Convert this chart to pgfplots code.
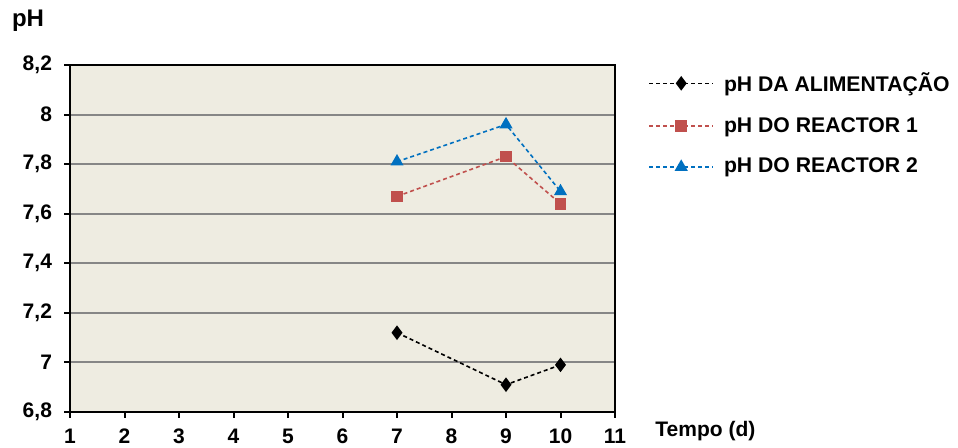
\documentclass[border=0pt]{standalone}
\usepackage{fontspec}
\setmainfont{Liberation Sans}
\usepackage{pgfplots}
\pgfplotsset{compat=1.18}
\definecolor{bgc}{HTML}{EEECE1}
\definecolor{redc}{HTML}{C0504D}
\definecolor{bluec}{HTML}{0070C0}
\definecolor{gridc}{HTML}{868686}
\begin{document}
\begin{tikzpicture}[font=\fontsize{10.5}{12.6}\selectfont\bfseries]
\path[use as bounding box] (0,0) rectangle (479pt,224pt);
\begin{axis}[
 at={(35pt,18pt)}, anchor=south west,
 scale only axis, width=272.5pt, height=173.5pt,
 xmin=1, xmax=11, ymin=6.8, ymax=8.2,
 xtick={1,2,3,4,5,6,7,8,9,10,11},
 ytick={6.8,7,7.2,7.4,7.6,7.8,8,8.2},
 xtick pos=left, ytick pos=left,
 tick align=outside, major tick length=3pt,
 tick style={black, line width=1pt},
 axis line style={black, line width=1pt},
 ymajorgrids, grid style={gridc, line width=1pt},
 axis background/.style={fill=bgc},
 /pgf/number format/use comma,
 /pgf/number format/assume math mode=true,
 ticklabel style={font=\fontsize{10.5}{12.6}\selectfont\bfseries},
 yticklabel style={xshift=-2.5pt},
 xticklabel style={yshift=-2pt},
 legend style={at={(1,1)}, anchor=north west, xshift=13.5pt, yshift=0.5pt, draw=none, fill=none,
   row sep=7.5pt, font=\fontsize{10.6}{12.6}\selectfont\bfseries,
   nodes={inner xsep=5pt}},
 legend cell align=left,
 legend image code/.code={\draw[mark repeat=2,mark phase=2,#1] plot coordinates {(0pt,0pt) (16pt,0pt) (32pt,0pt)};},
 clip=false,
]
\addplot[black, line width=0.8pt, dash pattern=on 2pt off 1.5pt, mark=diamond*, mark size=3pt, mark options={solid}]
 coordinates {(7,7.12) (9,6.91) (10,6.99)};
\addlegendentry{pH DA ALIMENTAÇÃO}
\addplot[redc, line width=0.8pt, dash pattern=on 2pt off 1.5pt, mark=square*, mark size=2.5pt, mark options={solid}]
 coordinates {(7,7.67) (9,7.83) (10,7.64)};
\addlegendentry{pH DO REACTOR 1}
\addplot[bluec, line width=0.8pt, dash pattern=on 2pt off 1.5pt, mark=triangle*, mark size=3pt, mark options={solid}]
 coordinates {(7,7.81) (9,7.96) (10,7.69)};
\addlegendentry{pH DO REACTOR 2}
\end{axis}
\node[anchor=base west, inner sep=0pt, font=\fontsize{12}{14}\selectfont\bfseries] at (5.8pt,210.5pt) {pH};
\node[anchor=base west, inner sep=0pt] at (327.5pt,5.5pt) {Tempo (d)};
\end{tikzpicture}
\end{document}
